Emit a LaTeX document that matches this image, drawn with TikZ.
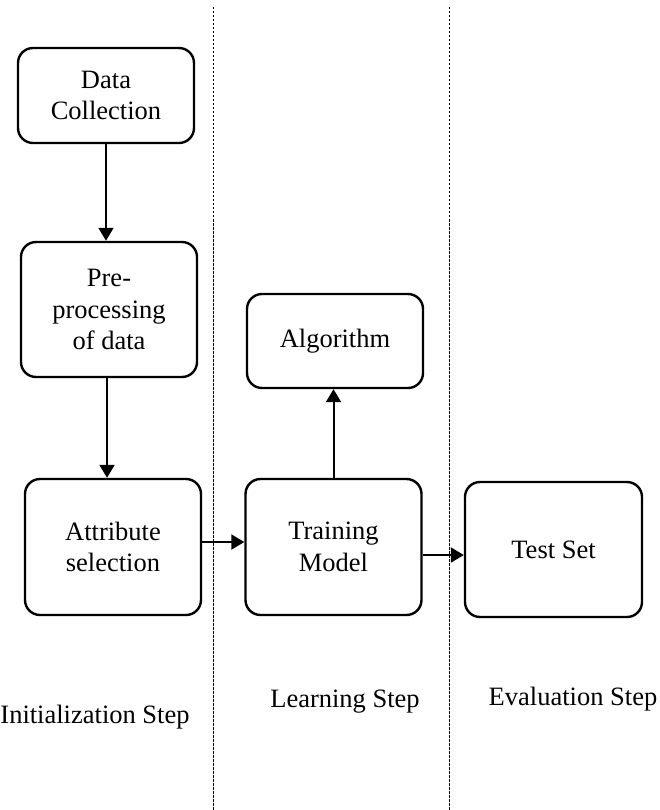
\documentclass[tikz,border=0pt]{standalone}
\usepackage{fontspec}
\setmainfont{Liberation Serif}
\usepackage{tikz}
\usetikzlibrary{arrows.meta, positioning, calc}

\begin{document}
\begin{tikzpicture}[x=1pt, y=-1pt,
    stagebox/.style={draw, line width=2.4pt, rounded corners=15pt, align=center,
      inner sep=0pt, minimum width=176pt, font=\fontsize{26.5}{31.5}\selectfont},
    flow/.style={line width=2pt, -{Triangle[length=13pt, width=15pt]}},
    divider/.style={line width=0.9pt, dash pattern=on 2.5pt off 1.5pt},
    steplabel/.style={font=\fontsize{26.5}{31.5}\selectfont, inner sep=0pt}]
  \useasboundingbox (0,0) rectangle (660,810);

  % phase separators
  \coordinate (sepAtop) at (213.5,7);
  \coordinate (sepAbot) at (213.5,810);
  \coordinate (sepBtop) at (449,7);
  \coordinate (sepBbot) at (449,810);
  \draw[divider] (sepAtop) -- (sepAbot);
  \draw[divider] (sepBtop) -- (sepBbot);

  % boxes
  \node[stagebox, minimum height=95pt] (collect) at (106,95.5) {Data\\Collection};
  \node[stagebox, minimum height=135pt] (prep) at (109,309.5) {Pre-\\processing\\of data};
  \node[stagebox, minimum height=136pt] (attrib) at (113,547) {Attribute\\selection};
  \node[stagebox, minimum height=136pt] (train) at (333.5,547) {Training\\Model};
  \node[stagebox, minimum height=94pt] (algo) at (335,341) {Algorithm};
  \node[stagebox, minimum height=135pt, minimum width=177pt] (testset) at (553.5,549.5) {Test Set};

  % connectors
  \draw[flow] (collect.south) -- (collect.south |- prep.north);
  \draw[flow] ([xshift=-2pt]prep.south) -- ([xshift=-2pt]prep.south |- attrib.north);
  \draw[flow] ([yshift=5pt]attrib.east) -- ([yshift=5pt]train.west);
  \draw[flow] (train.north) -- (train.north |- algo.south);
  \draw[flow] ([yshift=-8pt]train.east) -- ([yshift=-5.5pt]testset.west);

  % phase names
  \node[steplabel] (initstep) at (95,717) {Initialization Step};
  \node[steplabel] (learnstep) at (345,702) {Learning Step};
  \node[steplabel] (evalstep) at (573,699) {Evaluation Step};
\end{tikzpicture}
\end{document}
